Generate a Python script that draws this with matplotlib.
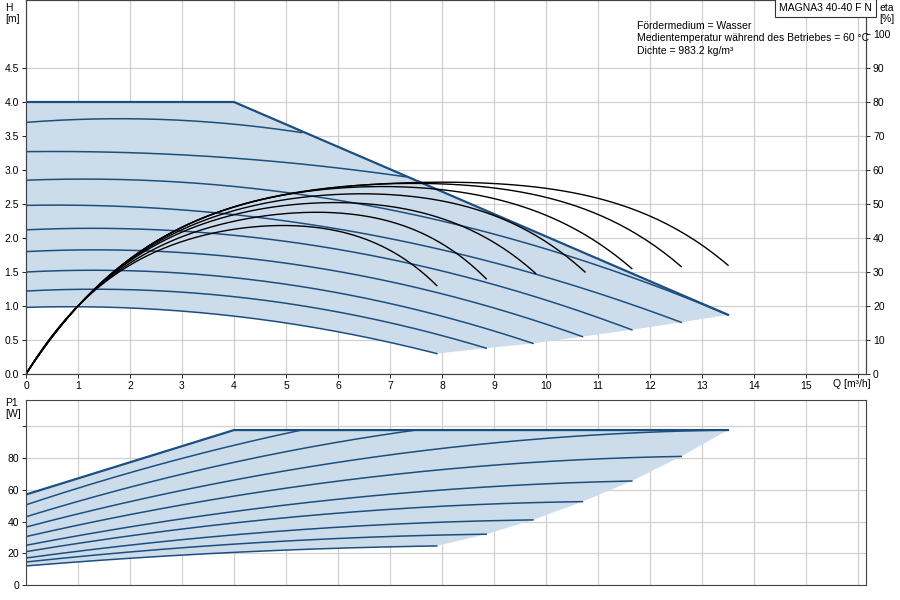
import numpy as np
import matplotlib.pyplot as plt

plt.close('all')
plt.rcParams['font.family'] = ['Liberation Sans', 'DejaVu Sans']

# Q-H speed curves (read points: Q, H)
h_curves = [
    [(0, 3.70), (2.3, 3.75), (5.3, 3.55)],
    [(0, 3.27), (5.0, 3.11), (7.3, 2.90)],
    [(0, 2.85), (5.0, 2.67), (13.5, 0.87)],
    [(0, 2.48), (5.0, 2.25), (12.6, 0.76)],
    [(0, 2.12), (5.0, 1.95), (11.65, 0.65)],
    [(0, 1.80), (5.0, 1.63), (10.7, 0.55)],
    [(0, 1.50), (5.0, 1.32), (9.75, 0.45)],
    [(0, 1.22), (5.0, 1.04), (8.85, 0.38)],
    [(0, 0.98), (5.0, 0.75), (7.9, 0.30)],
]
h_max_q = [0, 4, 13.5]
h_max_h = [4.0, 4.0, 0.87]
h_low_q = [13.5, 12.6, 11.65, 10.7, 9.75, 8.85, 7.9]
h_low_h = [0.87, 0.76, 0.65, 0.55, 0.45, 0.38, 0.30]

# efficiency curves (Q, eta %)
eta_curves = [
    [(0, 0), (1, 20), (2.5, 36), (4.7, 43.6), (7.9, 26)],
    [(0, 0), (1, 20), (2.5, 37), (5.2, 47.4), (8.85, 28)],
    [(0, 0), (1, 20), (2.5, 38), (5.8, 50.4), (9.8, 29.6)],
    [(0, 0), (1, 20), (2.5, 38.5), (6.5, 53), (10.75, 30)],
    [(0, 0), (1, 20), (2.5, 39), (7.3, 55), (11.65, 31)],
    [(0, 0), (1, 20), (2.5, 39), (7.8, 56), (12.6, 31.6)],
    [(0, 0), (1, 20), (2.5, 39), (8.2, 56.4), (13.5, 32)],
]

# power curves (Q, P1 W)
p_curves = [
    [(0, 50.5), (4, 88), (5.3, 97.6)],
    [(0, 43), (5, 84), (7.5, 97.6)],
    [(0, 36.5), (5, 72), (13.5, 97.6)],
    [(0, 30.5), (5, 61), (12.6, 81)],
    [(0, 25), (5, 50.4), (11.65, 65.5)],
    [(0, 21), (5, 42.4), (10.7, 52.5)],
    [(0, 17), (5, 34.2), (9.75, 41)],
    [(0, 14.5), (5, 27.7), (8.85, 32)],
    [(0, 12), (5, 22), (7.9, 24.6)],
]
p_max_q = [0, 4, 13.5]
p_max_p = [57, 97.6, 97.6]
p_low_q = [13.5, 12.6, 11.65, 10.7, 9.75, 8.85, 7.9]
p_low_p = [97.6, 81, 65.5, 52.5, 41, 32, 24.6]

blue = '#1c4f80'
fillc = '#cddcea'
gridc = '#d0d0d0'
fs = 7.5


def fitcurve(pts, deg):
    q = np.array([p[0] for p in pts])
    v = np.array([p[1] for p in pts])
    c = np.polyfit(q, v, deg)
    qq = np.linspace(q[0], q[-1], 150)
    return qq, np.polyval(c, qq)


fig = plt.figure(figsize=(9, 6), dpi=100)
ax = fig.add_axes([26/900, 1-374/600, 840/900, 374/600])
ax2 = ax.twinx()
axp = fig.add_axes([26/900, 15/600, 840/900, 185/600])

# ---- top: Q-H
q10, h10 = fitcurve(h_curves[-1], 2)
poly_q = list(h_max_q) + list(h_low_q) + list(q10[::-1])
poly_h = list(h_max_h) + list(h_low_h) + list(h10[::-1])
ax.fill(poly_q, poly_h, color=fillc, lw=0)
ax.plot(h_max_q, h_max_h, color=blue, lw=1.6)
for c in h_curves:
    qq, hh = fitcurve(c, 2)
    ax.plot(qq, hh, color=blue, lw=1.1)

for c in eta_curves:
    qq, ee = fitcurve(c, 4)
    ax2.plot(qq, ee, color='black', lw=1.0)

ax.set_xlim(0, 840/52)
ax.set_ylim(0, 5.5)
ax.set_xticks(range(17))
ax.set_xticklabels([str(i) for i in range(16)] + [''])
ax.set_yticks(np.arange(0, 5.0, 0.5))
ax.set_yticklabels(['%.1f' % v for v in np.arange(0, 5.0, 0.5)])
ax.grid(True, color=gridc, lw=0.9)
ax.set_axisbelow(True)
ax2.set_ylim(0, 110)
ax2.set_yticks(range(0, 101, 10))
for a in (ax, ax2, axp):
    a.tick_params(labelsize=fs, length=3, width=0.6, pad=2)
    for s in a.spines.values():
        s.set_color('#444444')
        s.set_linewidth(0.8)

# ---- bottom: P1
q12, p12 = fitcurve(p_curves[-1], 2)
poly_q = list(p_max_q) + list(p_low_q) + list(q12[::-1])
poly_p = list(p_max_p) + list(p_low_p) + list(p12[::-1])
axp.fill(poly_q, poly_p, color=fillc, lw=0)
axp.plot(p_max_q, p_max_p, color=blue, lw=1.6)
for c in p_curves:
    qq, pp = fitcurve(c, 2)
    axp.plot(qq, pp, color=blue, lw=1.1)
axp.set_xlim(0, 840/52)
axp.set_ylim(0, 185/1.5875)
axp.set_xticks(range(17))
axp.set_xticklabels([])
axp.tick_params(axis='x', length=0)
axp.set_yticks(range(0, 101, 20))
axp.set_yticklabels(['0', '20', '40', '60', '80', ''])
axp.grid(True, color=gridc, lw=0.9)
axp.set_axisbelow(True)

# ---- texts
fig.text(5/900, 1-3/600, 'H\n[m]', fontsize=fs, va='top', ha='left', linespacing=1.1)
fig.text(5/900, 1-398/600, 'P1\n[W]', fontsize=fs, va='top', ha='left', linespacing=1.1)
fig.text(879/900, 1-3/600, 'eta\n[%]', fontsize=fs, va='top', ha='left', linespacing=1.1)
fig.text(833/900, 1-384/600, 'Q [m³/h]', fontsize=fs, va='center', ha='left')
fig.text(637/900, 1-21/600,
         'Fördermedium = Wasser\nMedientemperatur während des Betriebes = 60 °C\nDichte = 983.2 kg/m³',
         fontsize=fs, va='top', ha='left', linespacing=1.3)
fig.text(779/900, 1-8/600, 'MAGNA3 40-40 F N', fontsize=fs, va='center', ha='left',
         bbox=dict(boxstyle='square,pad=0.35', fc='white', ec='#333333', lw=0.8))

fig.savefig('out.png', dpi=100)
